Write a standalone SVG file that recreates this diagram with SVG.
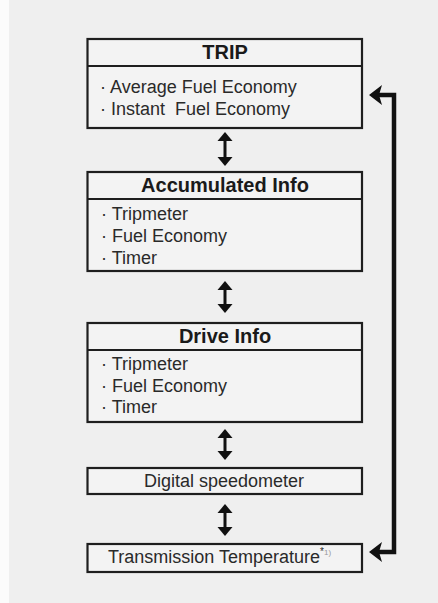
<svg xmlns="http://www.w3.org/2000/svg" width="438" height="603" viewBox="0 0 438 603">
<defs>
<style>
.box{fill:#f3f3f3;stroke:#1e1e1e;stroke-width:2.2}
.div{stroke:#1e1e1e;stroke-width:2.2}
.h{font-family:"Liberation Sans",Arial,sans-serif;font-weight:bold;font-size:20px;fill:#1a1a1a;text-anchor:middle}
.t{font-family:"Liberation Sans",Arial,sans-serif;font-size:18px;fill:#2a2a2a;white-space:pre}
.c{text-anchor:middle}
.sh{stroke:#111;stroke-width:3;fill:none}
.hd{fill:#111}
.loop{stroke:#111;stroke-width:4.5;fill:none;stroke-linejoin:miter}
</style>
</defs>
<rect x="0" y="0" width="438" height="603" fill="#efefef"/>
<rect x="0" y="0" width="9" height="603" fill="#fbfbfb"/>

<g id="trip">
<rect class="box" x="87.5" y="39" width="274.5" height="89"/>
<line class="div" x1="87.5" y1="66" x2="362" y2="66"/>
<text class="h" x="225" y="59">TRIP</text>
<text class="t" x="100" y="93">· Average Fuel Economy</text>
<text class="t" x="100" y="115">· Instant  Fuel Economy</text>
</g>

<g id="accumulated">
<rect class="box" x="87.5" y="172" width="274.5" height="99"/>
<line class="div" x1="87.5" y1="199" x2="362" y2="199"/>
<text class="h" x="225" y="192">Accumulated Info</text>
<text class="t" x="101" y="220">· Tripmeter</text>
<text class="t" x="101" y="242">· Fuel Economy</text>
<text class="t" x="101" y="264">· Timer</text>
</g>

<g id="drive">
<rect class="box" x="87.5" y="323" width="274.5" height="99"/>
<line class="div" x1="87.5" y1="350" x2="362" y2="350"/>
<text class="h" x="225" y="343">Drive Info</text>
<text class="t" x="101" y="370">· Tripmeter</text>
<text class="t" x="101" y="392">· Fuel Economy</text>
<text class="t" x="101" y="413">· Timer</text>
</g>

<g id="digital">
<rect class="box" x="87.5" y="468" width="274.5" height="26"/>
<text class="t c" x="224" y="487">Digital speedometer</text>
</g>

<g id="transmission">
<rect class="box" x="87.5" y="544" width="274.5" height="28"/>
<text class="t" x="108" y="563">Transmission Temperature<tspan font-size="10" dy="-8">*</tspan><tspan font-size="8" fill="#999">1)</tspan></text>
</g>

<g id="connectors">
<g id="c1">
<line class="sh" x1="225" y1="139" x2="225" y2="159"/>
<polygon class="hd" points="225,132 232.5,141 217.5,141"/>
<polygon class="hd" points="225,166 232.5,157 217.5,157"/>
</g>
<g id="c2">
<line class="sh" x1="225" y1="288" x2="225" y2="306"/>
<polygon class="hd" points="225,281 232.5,290 217.5,290"/>
<polygon class="hd" points="225,313 232.5,304 217.5,304"/>
</g>
<g id="c3">
<line class="sh" x1="225" y1="436" x2="225" y2="453"/>
<polygon class="hd" points="225,429 232.5,438 217.5,438"/>
<polygon class="hd" points="225,460 232.5,451 217.5,451"/>
</g>
<g id="c4">
<line class="sh" x1="225" y1="511" x2="225" y2="529"/>
<polygon class="hd" points="225,504 232.5,513 217.5,513"/>
<polygon class="hd" points="225,536 232.5,527 217.5,527"/>
</g>
<g id="loop">
<polyline class="loop" points="378,95 394,95 394,552 378,552"/>
<polygon class="hd" points="369,95 382,85 379,95 382,105"/>
<polygon class="hd" points="369,552 382,542 379,552 382,562"/>
</g>
</g>
</svg>
